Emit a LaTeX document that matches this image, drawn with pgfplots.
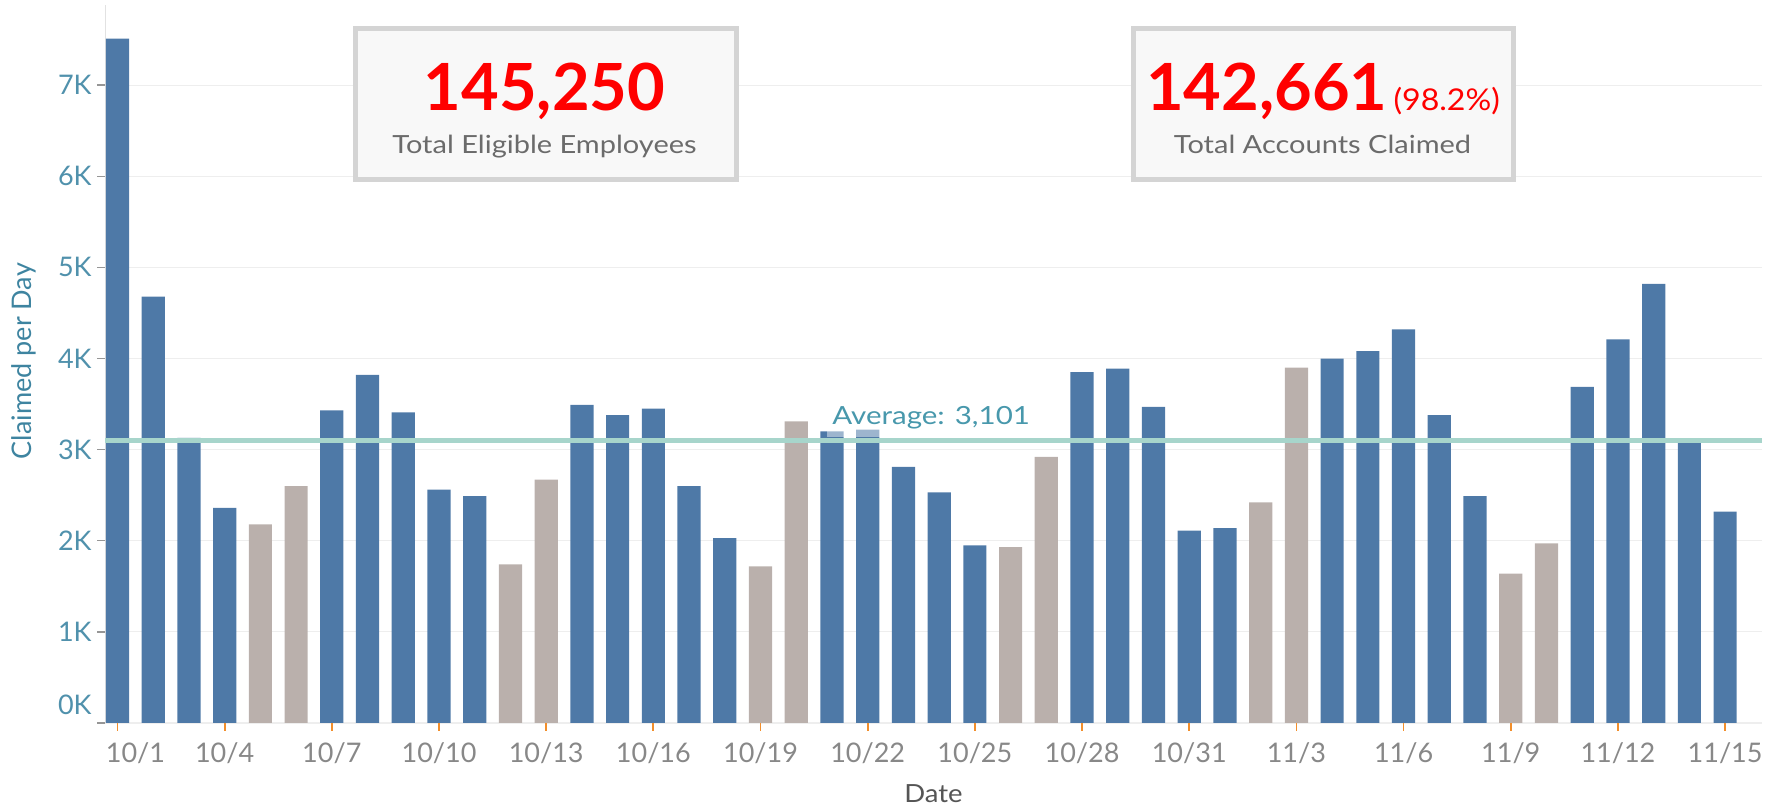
\documentclass[border=0pt]{standalone}
\usepackage{fontspec}
\setmainfont{Lato}
\newfontfamily\widefont[FakeStretch=1.16]{Lato}
\newfontfamily\wideavg[FakeStretch=1.18]{Lato}
\newfontfamily\widedate[FakeStretch=1.1]{Lato}
\newfontfamily\widepct[FakeStretch=1.07]{Lato}
\usepackage{pgfplots}
\pgfplotsset{compat=1.18}
\definecolor{barblue}{RGB}{78,121,167}
\definecolor{bargray}{RGB}{186,176,172}
\definecolor{avgline}{RGB}{167,213,203}
\definecolor{avgtext}{RGB}{72,152,172}
\definecolor{ytickcol}{RGB}{80,145,172}
\definecolor{ylabcol}{RGB}{62,132,160}
\definecolor{xtickcol}{RGB}{136,136,136}
\definecolor{datecol}{RGB}{85,85,85}
\definecolor{gridgray}{RGB}{238,238,238}
\definecolor{axisgray}{RGB}{226,226,226}
\definecolor{tickorange}{RGB}{242,142,43}
\definecolor{tickgray}{RGB}{150,150,150}
\definecolor{kpired}{RGB}{255,0,0}
\definecolor{subgray}{RGB}{107,107,107}
\definecolor{boxborder}{RGB}{212,212,212}
\definecolor{boxfill}{RGB}{248,248,248}
\begin{document}
\begin{tikzpicture}[x=0.5pt,y=0.5pt]
\path[use as bounding box] (0,0) rectangle (1773,808);
\begin{axis}[
  at={(52.6pt,42.5pt)}, anchor=south west,
  scale only axis, width=828.35pt, height=359pt,
  xmin=-0.344, xmax=46.03, ymin=0, ymax=7880,
  axis x line=bottom, axis y line=left, axis line style={-},
  x axis line style={draw=none},
  y axis line style={draw=axisgray, line width=0.7pt},
  ymajorgrids, major grid style={draw=gridgray, line width=0.6pt},
  tick align=outside, major tick length=4pt,
  xtick style={draw=tickorange, line width=0.9pt},
  ytick style={draw=tickgray, line width=0.7pt},
  xtick={0,3,...,45},
  xticklabels={\hspace*{18pt}10/1,10/4,10/7,10/10,10/13,10/16,10/19,10/22,10/25,10/28,10/31,11/3,11/6,11/9,11/12,11/15},
  ytick={0,1000,...,7000},
  yticklabels={{\raisebox{9pt}[\height][\depth]{0K}},1K,2K,3K,4K,5K,6K,7K},
  xticklabel style={font=\fontsize{13.5}{16}\selectfont, text=xtickcol, anchor=base, yshift=-16pt},
  yticklabel style={font=\fontsize{13.5}{16}\selectfont, text=ytickcol, anchor=east, inner xsep=0pt, xshift=-2.6pt},
  xlabel={Date},
  every axis x label/.style={at={(axis description cs:0.5,-0.1114)}, anchor=base, font=\widedate\fontsize{12.5}{15}\selectfont, text=datecol},
  ylabel={Claimed per Day},
  every axis y label/.style={at={(axis description cs:-0.049,0.504)}, anchor=center, rotate=90, font=\fontsize{13.5}{15}\selectfont, text=ylabcol},
]
\addplot[ybar, bar width=11.6pt, bar shift=0pt, fill=barblue, draw=none] coordinates {
(0,7510) (1,4680) (2,3130) (3,2360) (6,3430) (7,3820) (8,3410) (9,2560) (10,2490)
(13,3490) (14,3380) (15,3450) (16,2600) (17,2030) (20,3200) (21,3220) (22,2810) (23,2530) (24,1950)
(27,3850) (28,3890) (29,3470) (30,2110) (31,2140) (34,4000) (35,4080) (36,4320) (37,3380) (38,2490)
(41,3690) (42,4210) (43,4820) (44,3080) (45,2320)
};
\addplot[ybar, bar width=11.6pt, bar shift=0pt, fill=bargray, draw=none] coordinates {
(4,2180) (5,2600) (11,1740) (12,2670) (18,1720) (19,3310) (25,1930) (26,2920) (32,2420) (33,3900) (39,1640) (40,1970)
};
\addplot[draw=avgline, line width=2.3pt] coordinates {(-0.344,3101) (46.03,3101)};
\node[anchor=base west, fill=white, fill opacity=0.45, text opacity=1, text=avgtext, inner xsep=2.5pt, inner ysep=3.5pt, font=\wideavg\fontsize{12.5}{15}\selectfont, yshift=7.75pt] at (axis cs:19.86,3101) {Average: 3,101};
\end{axis}
% KPI boxes
\draw[line width=2.5pt, draw=boxborder, fill=boxfill] (355.7,779.8) rectangle (736.5,628.8);
\node[anchor=base, text=kpired, font=\fontsize{32.5}{36}\selectfont\bfseries, inner sep=0pt] at (544.5,697.3) {145,250};
\node[anchor=base, text=subgray, font=\widefont\fontsize{12.5}{15}\selectfont, inner sep=0pt] at (544.5,654) {Total Eligible Employees};
\draw[line width=2.5pt, draw=boxborder, fill=boxfill] (1133.2,779.8) rectangle (1513.2,628.8);
\node[anchor=base, text=kpired, inner sep=0pt] at (1323,697.3) {{\fontsize{32.5}{36}\selectfont\bfseries 142,661}\hspace{3pt}{\widepct\fontsize{15}{18}\selectfont (98.2\%)}};
\node[anchor=base, text=subgray, font=\widefont\fontsize{12.5}{15}\selectfont, inner sep=0pt] at (1322.5,654) {Total Accounts Claimed};
\end{tikzpicture}
\end{document}
